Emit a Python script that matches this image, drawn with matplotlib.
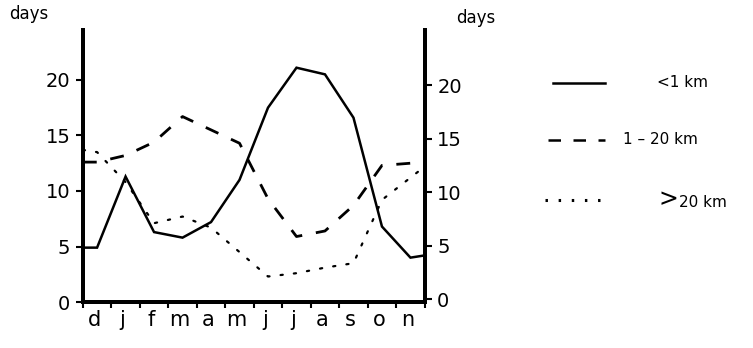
import numpy as np
import matplotlib
matplotlib.use("Agg")
import matplotlib.pyplot as plt
from matplotlib.lines import Line2D

months = ["d", "j", "f", "m", "a", "m", "j", "j", "a", "s", "o", "n"]

# days per month, read at mid-month; first/last values are where the lines meet the axes
near = [4.9, 4.9, 11.3, 6.3, 5.8, 7.2, 11.0, 17.5, 21.1, 20.5, 16.6, 6.8, 4.0, 4.2]
mid = [12.6, 12.6, 13.2, 14.4, 16.7, 15.5, 14.3, 9.3, 5.9, 6.4, 8.7, 12.3, 12.5, 12.2]
far = [13.7, 13.5, 10.8, 7.1, 7.7, 6.7, 4.5, 2.3, 2.6, 3.1, 3.5, 9.2, 11.2, 12.2]

x = [-0.5] + list(range(12)) + [11.5]

fig = plt.figure(figsize=(7.53, 3.48), dpi=100)
ax = fig.add_axes([0.110, 0.132, 0.454, 0.782])
ax2 = ax.twinx()

ax.plot(x, near, color="black", lw=1.8, solid_joinstyle="miter")
ax.plot(x, mid, color="black", lw=2.0, dashes=(5, 5))
ax.plot(x, far, color="black", lw=1.6, dashes=(1, 5), dash_capstyle="round")

ax.set_xlim(-0.5, 11.5)
ax.set_ylim(0, 24.5)
ax2.set_ylim(-0.28, 25.2)

ax.set_yticks([0, 5, 10, 15, 20])
ax.set_yticklabels(["0", "5", "10", "15", "20"])
ax2.set_yticks([0, 5, 10, 15, 20])
ax2.set_yticklabels(["0", "5", "10", "15", "20"])

ax.set_xticks(np.arange(12) - 0.1)
ax.set_xticklabels(months)
ax.set_xticks(np.arange(13) - 0.5, minor=True)
ax.tick_params(axis="x", which="major", length=0, pad=6, labelsize=15)
ax.tick_params(axis="x", which="minor", length=4, width=1.5, direction="out")
ax.tick_params(axis="y", length=5, width=1.5, labelsize=14, pad=4)
ax2.tick_params(axis="y", length=5, width=1.5, labelsize=14, pad=4)

for a in (ax, ax2):
    a.spines["top"].set_visible(False)
    a.spines["left"].set_linewidth(2.8)
    a.spines["right"].set_linewidth(2.8)
    a.spines["bottom"].set_linewidth(2.8)

fig.text(0.012, 0.945, "days", fontsize=12)
fig.text(0.606, 0.935, "days", fontsize=12)

# legend drawn by hand
legend = [((0.734, 0.804), 0.762, "solid"),
          ((0.728, 0.804), 0.598, "dashed"),
          ((0.724, 0.804), 0.425, "dotted")]
for (x0, x1), y, style in legend:
    if style == "solid":
        ln = Line2D([x0, x1], [y, y], color="black", lw=1.8)
    elif style == "dashed":
        ln = Line2D([x0, x1], [y, y], color="black", lw=1.8, dashes=(5, 5))
    else:
        ln = Line2D([x0, x1], [y, y], color="black", lw=2.2, dashes=(0.8, 3.5))
    ln.set_transform(fig.transFigure)
    fig.add_artist(ln)

fig.text(0.872, 0.762, "<1 km", fontsize=11, va="center")
fig.text(0.827, 0.598, "1 – 20 km", fontsize=11, va="center")
fig.text(0.874, 0.428, ">", fontsize=17, va="center")
fig.text(0.902, 0.418, "20 km", fontsize=11, va="center")

fig.savefig("out.png", dpi=100, facecolor="white")
